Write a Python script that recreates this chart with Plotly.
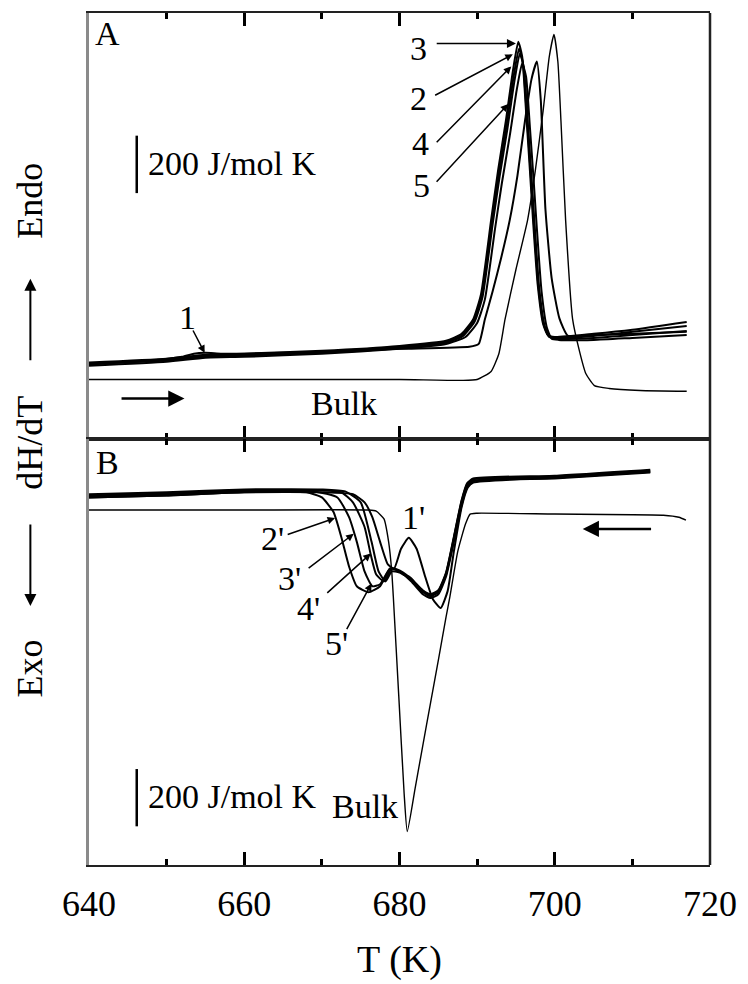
import plotly.graph_objects as go

# ---------------- Heating scans (panel A), dH/dT in J/mol K (offset) ----------------
T_a1 = [640, 648, 652, 653.5, 655, 657, 660, 670, 680, 689, 690.2, 691.0, 692.0, 693.1,
        694.2, 695.2, 696.2, 697.0, 697.7, 698.2, 698.8, 699.6, 700.6, 701.7, 705, 710, 717]
Y_a1 = [259, 273, 286, 297, 300, 297, 297, 304, 314, 321, 331, 417, 514, 631,
        762, 918, 1114, 1252, 1314, 1180, 800, 560, 420, 359, 362, 366, 373]

T_a2 = [640, 650, 655, 660, 670, 680, 686, 688.1, 689.6, 690.6, 691.9, 692.8, 693.8, 694.7,
        695.4, 695.9, 696.4, 696.9, 697.3, 697.9, 698.6, 699.2, 700.1, 705, 710, 717]
Y_a2 = [262, 276, 290, 293, 304, 321, 338, 362, 414, 500, 755, 924, 1094, 1262,
        1359, 1310, 1125, 924, 755, 531, 397, 359, 352, 359, 373, 393]

T_a3 = [640, 650, 655, 660, 670, 680, 686, 688, 689.5, 690.5, 691.8, 692.7, 693.7, 694.6,
        695.3, 695.8, 696.3, 696.8, 697.2, 697.8, 698.5, 699.1, 700, 705, 710, 717]
Y_a3 = [266, 279, 293, 297, 307, 324, 342, 366, 417, 504, 762, 935, 1107, 1280,
        1383, 1332, 1142, 935, 762, 538, 400, 362, 355, 366, 380, 407]

T_a4 = [640, 650, 655, 660, 670, 680, 686, 688.2, 689.7, 690.7, 692.0, 692.9, 693.9, 694.8,
        695.5, 696.0, 696.5, 697.0, 697.4, 698.0, 698.7, 699.3, 700.2, 705, 710, 717]
Y_a4 = [262, 273, 286, 290, 300, 317, 335, 359, 410, 495, 748, 914, 1080, 1245,
        1342, 1295, 1112, 914, 748, 524, 393, 355, 349, 352, 362, 376]

T_a5 = [640, 650, 655, 660, 670, 680, 686, 688.5, 690.0, 691.0, 692.3, 693.2, 694.2, 695.1,
        695.8, 696.3, 696.8, 697.3, 697.7, 698.3, 699.0, 699.6, 700.5, 705, 710, 717]
Y_a5 = [255, 269, 283, 286, 297, 314, 331, 355, 404, 486, 731, 893, 1055, 1215,
        1308, 1262, 1085, 893, 731, 514, 386, 349, 345, 345, 352, 362]

T_abulk = [640, 650, 660, 670, 680, 688, 690, 691.8, 692.8, 693.6, 695, 696.5, 697.5, 698.5,
           699.3, 699.9, 700.4, 700.8, 701.4, 702.3, 703.2, 704, 705.1, 707, 711, 717]
Y_abulk = [207, 207, 207, 207, 207, 204, 207, 235, 297, 417, 590, 762, 935, 1142,
           1332, 1408, 1314, 1107, 762, 417, 304, 228, 186, 176, 169, 166]

# ---------------- Cooling scans (panel B) ----------------
T_b1 = [640, 650, 660, 670, 674, 675.5, 676.5, 677.5, 678.5, 679.3, 680.2, 681.2, 682.2,
        683.3, 684.3, 685.3, 686.2, 687, 688, 688.8, 689.5, 700, 712.3]
Y_b1 = [-204, -197, -186, -186, -193, -221, -273, -359, -438, -452, -383, -345, -383,
        -480, -559, -590, -531, -393, -238, -169, -152, -135, -114]

T_b2 = [640, 650, 660, 668, 670, 671.5, 672.5, 673.5, 674.5, 676, 677.5, 678.8, 680,
        681.5, 683, 684, 685, 686, 687, 688, 688.7, 689.5, 700, 712.3]
Y_b2 = [-204, -197, -186, -186, -204, -255, -342, -445, -514, -535, -514, -452, -462,
        -497, -542, -555, -542, -480, -359, -231, -169, -148, -138, -117]

T_b3 = [640, 650, 660, 669, 672, 673.5, 674.5, 675.5, 676.5, 677.5, 678.8, 680,
        681.5, 683, 684, 685, 686, 687, 688, 688.7, 689.5, 700, 712.3]
Y_b3 = [-200, -193, -183, -183, -204, -273, -359, -462, -514, -507, -452, -462,
        -490, -535, -549, -535, -473, -352, -224, -162, -145, -135, -114]

T_b4 = [640, 650, 660, 670, 672.5, 674, 675.5, 676.3, 677, 678, 679, 680,
        681.5, 683, 684, 685, 686, 687, 688, 688.7, 689.5, 700, 712.3]
Y_b4 = [-197, -190, -179, -179, -186, -221, -307, -404, -473, -497, -452, -459,
        -486, -531, -545, -531, -469, -345, -217, -159, -141, -131, -110]

T_b5 = [640, 650, 660, 670, 673, 675, 676.4, 677.3, 678.2, 679, 680,
        681.5, 683, 684, 685, 686, 687, 688, 688.7, 689.5, 700, 712.3]
Y_b5 = [-193, -186, -176, -176, -183, -221, -359, -462, -497, -462, -466,
        -490, -528, -542, -528, -466, -342, -214, -155, -138, -128, -107]

T_bbulk = [640, 660, 676, 677, 678, 678.6, 679, 679.2, 679.9, 680.6, 681, 682, 683,
           684, 685, 686, 686.5, 687.5, 688.5, 689.1, 690, 700, 714, 716, 716.9]
Y_bbulk = [-248, -248, -248, -252, -279, -359, -462, -549, -894, -1239, -1370, -1221, -1070,
           -921, -773, -621, -549, -393, -297, -262, -259, -262, -266, -273, -283]

SCALE = 200  # J/mol K

FONT = "Liberation Serif"
X_RANGE = [640, 720]
YA_RANGE = [0, 1483]
YB_RANGE = [-1487, 0]

fig = go.Figure()


def add_curve(t, y, xa, ya, width):
    fig.add_trace(go.Scatter(x=t, y=y, xaxis=xa, yaxis=ya, mode="lines",
                             line=dict(color="black", width=width, shape="spline", smoothing=0.5),
                             showlegend=False, hoverinfo="skip"))


for t, y in [(T_a1, Y_a1), (T_a2, Y_a2), (T_a3, Y_a3), (T_a4, Y_a4), (T_a5, Y_a5)]:
    add_curve(t, y, "x", "y", 2.0)
add_curve(T_abulk, Y_abulk, "x", "y", 1.4)

for t, y in [(T_b1, Y_b1), (T_b2, Y_b2), (T_b3, Y_b3), (T_b4, Y_b4), (T_b5, Y_b5)]:
    add_curve(t, y, "x2", "y2", 2.0)
add_curve(T_bbulk, Y_bbulk, "x2", "y2", 1.4)

# scale bars
fig.add_trace(go.Scatter(x=[646.15, 646.15], y=[856, 856 + SCALE], xaxis="x", yaxis="y",
                         mode="lines", line=dict(color="black", width=2.5),
                         showlegend=False, hoverinfo="skip"))
fig.add_trace(go.Scatter(x=[646.15, 646.15], y=[-1352, -1352 + SCALE], xaxis="x2", yaxis="y2",
                         mode="lines", line=dict(color="black", width=2.5),
                         showlegend=False, hoverinfo="skip"))

tick_font = dict(family=FONT, size=36, color="black")
axis_common = dict(range=X_RANGE, showline=True, linecolor="#222", linewidth=2,
                   mirror="ticks", ticks="inside", ticklen=13, tickwidth=2.5, tickcolor="black",
                   tick0=640, dtick=20, showgrid=False, zeroline=False,
                   minor=dict(ticks="inside", ticklen=6, tickwidth=2.5, dtick=10,
                              tickcolor="black", showgrid=False))
yaxis_common = dict(showline=True, linecolor="#8a8a8a", linewidth=2.5, mirror=False,
                    ticks="", showticklabels=False, showgrid=False, zeroline=False)

fig.update_layout(
    width=748, height=984,
    margin=dict(l=89, r=34, t=11, b=112),
    paper_bgcolor="white", plot_bgcolor="white",
    font=dict(family=FONT, size=34, color="black"),
    xaxis=dict(anchor="y", showticklabels=False, **axis_common),
    xaxis2=dict(anchor="y2", showticklabels=True, tickfont=tick_font,
                ticklabelstandoff=6,
                title=dict(text="T (K)", font=dict(family=FONT, size=38), standoff=22),
                **axis_common),
    yaxis=dict(domain=[0.5, 1], range=YA_RANGE, **yaxis_common),
    yaxis2=dict(domain=[0, 0.5], range=YB_RANGE, **yaxis_common),
    shapes=[dict(type="line", xref="paper", yref="paper", x0=1, x1=1, y0=0, y1=1,
                 line=dict(color="#222", width=2.5))],
)

ann = []


def text(x, y, s, xa, ya, size=34, xanchor="center"):
    ann.append(dict(x=x, y=y, xref=xa, yref=ya, text=s, showarrow=False,
                    font=dict(family=FONT, size=size, color="black"), xanchor=xanchor,
                    yanchor="middle"))


def arrow(x0, y0, x1, y1, xa, ya, head=2, size=1.0, width=1.5):
    ann.append(dict(x=x1, y=y1, ax=x0, ay=y0, xref=xa, yref=ya, axref=xa, ayref=ya,
                    text="", showarrow=True, arrowhead=head, arrowsize=size,
                    arrowwidth=width, arrowcolor="black", standoff=0, startstandoff=0))


# panel A labels
text(642.4, 1411, "A", "x", "y")
text(682.4, 1359, "3", "x", "y")
arrow(684.6, 1377, 695.0, 1377, "x", "y", head=2, size=1.2, width=1.5)
text(682.4, 1187, "2", "x", "y")
arrow(684.4, 1194, 694.6, 1339, "x", "y")
text(682.7, 1028, "4", "x", "y")
arrow(684.6, 1028, 694.4, 1297, "x", "y")
text(682.8, 883, "5", "x", "y")
arrow(684.6, 890, 694.0, 1166, "x", "y")
text(652.7, 424, "1", "x", "y")
arrow(653.3, 383, 654.9, 300, "x", "y", size=1.0)
text(672.8, 124, "Bulk", "x", "y")
arrow(644.0, 141, 652.3, 141, "x", "y", head=2, size=1.3, width=2.5)
text(647.4, 959, "200 J/mol K", "x", "y", size=34, xanchor="left")

# panel B labels
text(642.4, -83, "B", "x2", "y2")
text(681.8, -273, "1'", "x2", "y2")
text(663.6, -348, "2'", "x2", "y2")
arrow(665.4, -335, 671.7, -276, "x2", "y2")
text(665.8, -486, "3'", "x2", "y2")
arrow(668.1, -455, 674.1, -331, "x2", "y2")
text(668.3, -593, "4'", "x2", "y2")
arrow(670.5, -542, 676.3, -400, "x2", "y2")
text(671.9, -714, "5'", "x2", "y2")
arrow(673.1, -669, 676.4, -504, "x2", "y2")
text(675.5, -1283, "Bulk", "x2", "y2")
arrow(712.6, -314, 703.6, -314, "x2", "y2", head=2, size=1.3, width=2.5)
text(647.4, -1249, "200 J/mol K", "x2", "y2", size=34, xanchor="left")

# vertical axis caption with direction arrows
PX = -0.0944
for s, yp in [("Endo", 0.780), ("dH/dT", 0.496), ("Exo", 0.231)]:
    ann.append(dict(x=PX, y=yp, xref="paper", yref="paper", text=s, textangle=-90,
                    xanchor="center", yanchor="middle",
                    showarrow=False, font=dict(family=FONT, size=36, color="black")))
ann.append(dict(x=PX, y=0.688, xref="paper", yref="paper", ax=0, ay=83,
                text="", showarrow=True, arrowhead=2, arrowsize=1.2, arrowwidth=2,
                arrowcolor="black", standoff=0))
ann.append(dict(x=PX, y=0.304, xref="paper", yref="paper", ax=0, ay=-83,
                text="", showarrow=True, arrowhead=2, arrowsize=1.2, arrowwidth=2,
                arrowcolor="black", standoff=0))

fig.update_layout(annotations=ann)
fig.write_html("out.html")
